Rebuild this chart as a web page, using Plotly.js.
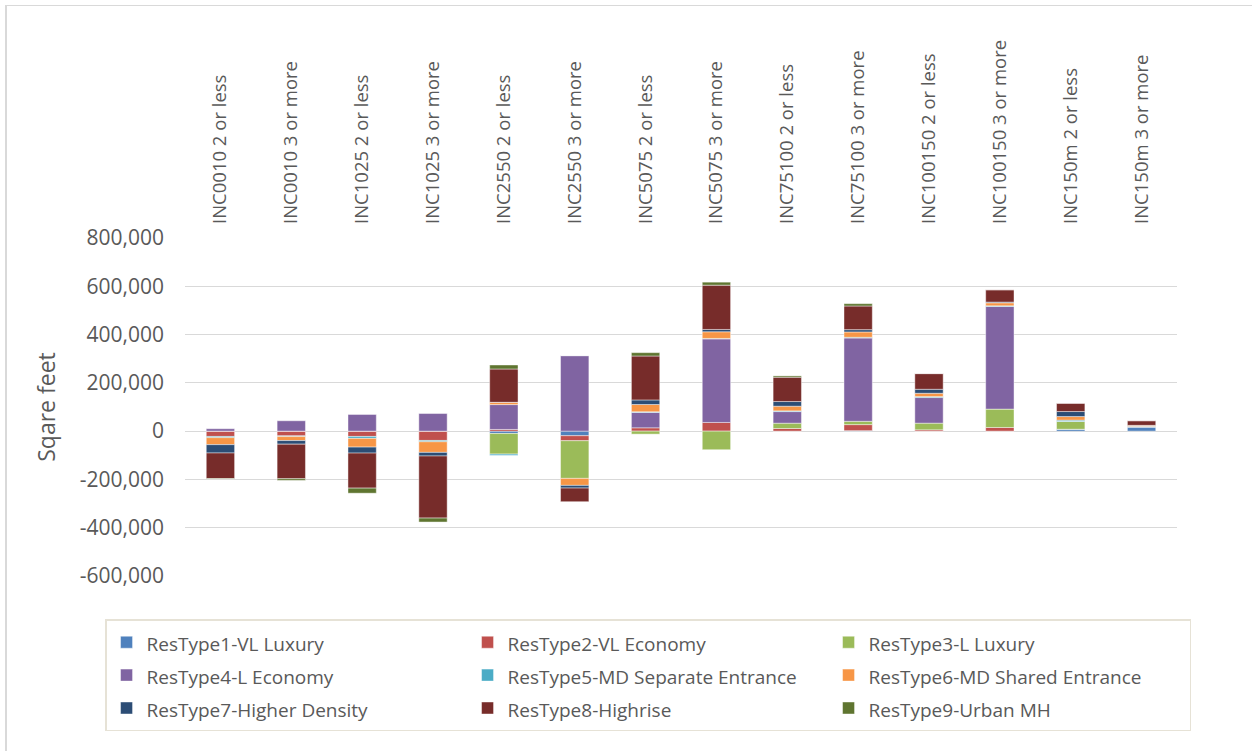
<!DOCTYPE html>
<html>
<head>
<meta charset="utf-8">
<script src="https://cdn.plot.ly/plotly-3.0.1.min.js"></script>
<style>
html,body{margin:0;padding:0;background:#fff;}
#chart{width:1252px;height:751px;position:absolute;left:0;top:0;}
#frame{position:absolute;left:5px;top:5px;width:1300px;height:800px;border-left:2px solid #d9d9d9;border-top:1px solid #d9d9d9;pointer-events:none;}
</style>
</head>
<body>
<div id="chart"></div>
<div id="frame"></div>
<script>
var categories = ["INC0010 2 or less","INC0010 3 or more","INC1025 2 or less","INC1025 3 or more",
  "INC2550 2 or less","INC2550 3 or more","INC5075 2 or less","INC5075 3 or more",
  "INC75100 2 or less","INC75100 3 or more","INC100150 2 or less","INC100150 3 or more",
  "INC150m 2 or less","INC150m 3 or more"];

var seriesNames = ["ResType1-VL Luxury","ResType2-VL Economy","ResType3-L Luxury",
  "ResType4-L Economy","ResType5-MD Separate Entrance","ResType6-MD Shared Entrance",
  "ResType7-Higher Density","ResType8-Highrise","ResType9-Urban MH"];

var resType1 = [0,0,0,0,-9500,-19000,0,0,0,2000,0,0,8000,18000];
var resType2 = [-22000,-19500,-22000,-38500,7000,-20700,13800,36000,11000,25000,5500,15200,0,0];
var resType3 = [0,0,0,0,-85500,-156000,-12400,-77000,22000,13800,27600,76000,32000,0];
var resType4 = [10000,43000,69000,73000,103000,313000,63500,346000,48000,345000,106000,425000,0,0];
var resType5 = [-5000,-3000,-8000,-5500,-5500,0,3000,2000,3000,3000,4000,3000,5500,2000];
var resType6 = [-29000,-16500,-36000,-44000,9500,-29000,30000,27600,19300,22000,13800,12400,15000,4000];
var resType7 = [-34500,-15000,-25000,-15000,0,-11000,19000,9600,19300,9600,16500,3000,20700,0];
var resType8 = [-106000,-143000,-145000,-257000,138000,-56600,182000,183500,100700,98000,65000,51000,34500,19300];
var resType9 = [-2000,-7000,-21000,-16500,16500,0,13800,12400,5500,9600,0,0,0,0];

var seriesValues = [resType1,resType2,resType3,resType4,resType5,resType6,resType7,resType8,resType9];
var colors = ["#4F81BD","#C0504D","#9BBB59","#8064A2","#4BACC6","#F79646","#2C4D75","#772C2A","#5F7530"];

var fontFam = '"Open Sans", "Noto Sans", sans-serif';

var traces = seriesNames.map(function(name, i){
  return {
    type: 'bar',
    name: '<span style="font-size:19px">' + name + '</span>',
    x: categories,
    y: seriesValues[i],
    marker: {color: colors[i], line: {color: 'rgba(255,255,255,0.55)', width: 0.8}},
    hoverinfo: 'y'
  };
});

var layout = {
  width: 1252,
  height: 751,
  barmode: 'relative',
  bargap: 0.6,
  paper_bgcolor: '#ffffff',
  plot_bgcolor: '#ffffff',
  font: {family: fontFam, color: '#595959'},
  margin: {l: 185, r: 75, t: 238, b: 174.5, pad: 0},
  showlegend: true,
  xaxis: {
    side: 'top',
    type: 'category',
    tickangle: -90,
    tickfont: {size: 18.5, color: '#595959', family: fontFam},
    showgrid: false,
    showline: false,
    zeroline: false,
    ticks: '',
    ticklabelstandoff: 13
  },
  yaxis: {
    range: [-600000, 800000],
    tickvals: [-600000,-400000,-200000,0,200000,400000,600000,800000],
    ticktext: ["-600,000","-400,000","-200,000","0","200,000","400,000","600,000","800,000"],
    tickfont: {size: 21, color: '#595959', family: fontFam},
    showgrid: true,
    gridcolor: '#d9d9d9',
    gridwidth: 1,
    zeroline: true,
    zerolinecolor: '#d9d9d9',
    zerolinewidth: 1,
    showline: false,
    ticks: '',
    ticklabelstandoff: 20,
    title: {text: 'Sqare feet', font: {size: 23, color: '#595959', family: fontFam}, standoff: 17}
  },
  legend: {
    orientation: 'h',
    x: -0.0806,
    xanchor: 'left',
    y: -0.128,
    yanchor: 'top',
    bgcolor: '#ffffff',
    bordercolor: '#e6e2d6',
    borderwidth: 1.5,
    font: {size: 23, color: '#595959', family: fontFam},
    entrywidth: 316,
    entrywidthmode: 'pixels',
    traceorder: 'normal'
  }
};

Plotly.newPlot('chart', traces, layout, {displayModeBar: false, staticPlot: true});
</script>
</body>
</html>
